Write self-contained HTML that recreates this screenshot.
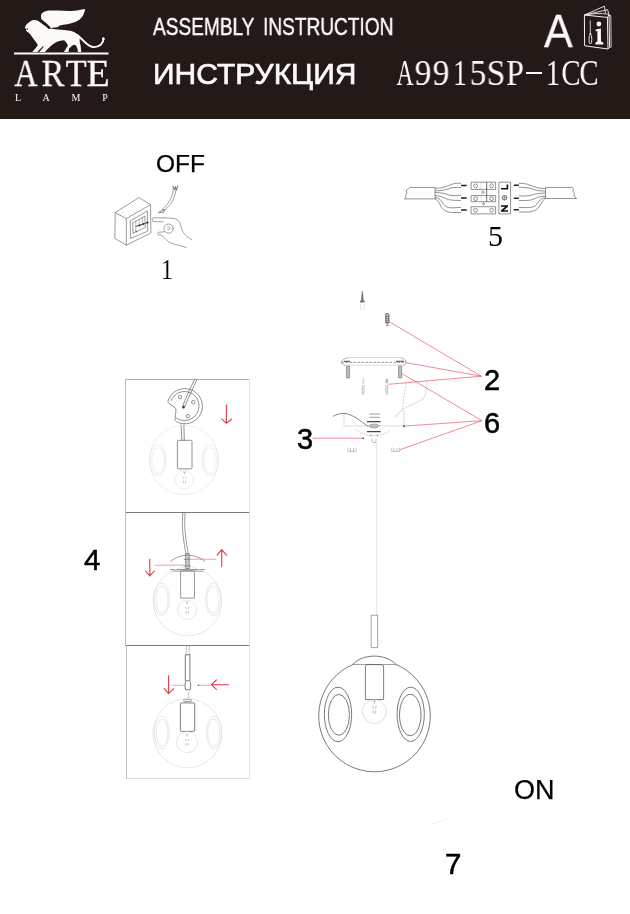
<!DOCTYPE html>
<html><head><meta charset="utf-8">
<style>
html,body{margin:0;padding:0;background:#fff;}
body{width:630px;height:914px;position:relative;overflow:hidden;font-family:"Liberation Sans",sans-serif;}
.t{position:absolute;white-space:nowrap;line-height:1;will-change:transform;}
#hdr{position:absolute;left:0;top:0;width:630px;height:119px;background:#231917;}
.w{color:#fbfaf8;}
.k{color:#000;}
.ser{font-family:"Liberation Serif",serif;}
svg{position:absolute;left:0;top:0;}
#art span{position:absolute;top:0;width:40px;text-align:center;will-change:transform;}
#arte span{position:absolute;top:0;width:50px;text-align:center;will-change:transform;}
#lamp span{position:absolute;top:0;width:20px;text-align:center;will-change:transform;}
</style></head><body>
<div id="hdr"></div>
<svg width="630" height="914" viewBox="0 0 630 914">
<g id="logo" fill="#fbfaf8">
<rect x="14" y="52.5" width="94.5" height="2"/>
<path d="M41,15.6 C41.5,12.8 44.5,11.2 48.7,10.6 C52,10.3 55,10.5 58.6,10.6 C63,10.8 67,11.1 71,11 C75,10.8 79,10.3 82,9.6 L85.2,8.9 C84.8,11 84.2,13 83.4,14.7 C82.2,16.8 80.8,18.5 79.3,19.7 C77.5,21 75.5,22 73.5,22.6 C70.5,23.6 68,24.2 65.2,24.6 C63,25 60.8,25.4 58.6,25.9 L58.6,27 L51,28 L48,26 C45.5,24 43,22 41.8,20.6 C41.2,19 41,17.5 41,15.6 Z"/>
<path d="M25.1,27.7 C25.2,26.8 25.4,26.2 25.6,25.7 C26.2,24.9 26.8,24.2 27.6,23.6 C28.4,22.8 29.3,22.1 30.2,21.6 C31.2,20.9 32.2,20.3 33.2,20.1 C34.2,20 35.3,20.1 36.3,20.3 C37.4,20.6 38.4,21.1 39.3,21.6 L42,23.5 L49,28.3 C52,29 55,29.3 58,29.5 C62,29.8 67,30.2 70.4,30.8 C73,31.5 75,32.5 76.7,33.7 C78,34.6 79.2,35.5 80,36.5 C79.8,38 79.8,39.5 79.6,41 C79.8,42.5 80.2,44 80.6,45.5 L80.9,48.6 L81.3,52 L78,52 L77.5,49 L76.7,46.7 C76,45.8 75.4,45 74.8,44.8 C74,45 73,45.2 72.3,45.4 L69.1,48.6 L68.5,52 L63.8,52 L65.5,49.5 L67.9,45.4 C67.5,44 66.8,43 66,42.2 C65.3,41 64.4,40.5 63.4,40.3 C61.5,40.6 59.6,41 57.7,41.6 C55.5,42.6 53.4,43.8 51.3,45.4 C49,47.5 46.5,50 45,52 L39.3,52 L43.9,46.6 L42.9,46.3 L37.3,52 L32.2,52 C33.5,50.5 35,49 35.8,48 C36.6,47 37.3,46 37.8,45 C36.8,43 35,40.5 33.2,38.4 C32.2,37 31.2,35.6 30.2,34.3 C29,33 27.8,32 26.6,31.3 L26,30.4 L26.4,29.2 L25.1,28.3 Z"/>
<path d="M77.5,35.2 C80,37.5 82,39.5 84,41.3 C87,44 89.5,46.5 93,47 C96,47.4 99,46.3 101,44.5 C102.8,42.8 103.5,40.8 103.6,38.5" fill="none" stroke="#fbfaf8" stroke-width="1.9" stroke-linecap="round"/>
<circle cx="103.3" cy="38.9" r="1.3"/>
</g>
<g fill="#231917"><circle cx="27.3" cy="28.9" r="0.75"/><path d="M38.5,19.8 L41.8,19.6 C43,20.5 44.2,21.6 45.4,22.6 C46.6,23.6 47.8,24.7 48.9,25.7 C49.6,26.3 50.3,27 50.3,27.8 C50.3,28.8 49.3,29.2 48.4,28.7 C47.7,28.1 47,27.4 46.4,26.7 C45.2,25.8 44,25 42.9,24.2 C41.7,23.3 40.5,22.4 39.3,21.6 Z"/></g>
<g id="book" fill="none" stroke="#f4f1ee" stroke-width="1">
<path d="M584.4,15 L607.4,17.4 L608,49 L584.6,45.8 Z"/>

<path d="M607.5,17.6 L609,14.2 L609.6,46.8 L608,49"/>
<path d="M609,15.5 L610.8,15.5 L611.2,47 L609.6,47.6" stroke-width="0.8"/>
<path d="M584.4,15 L604.4,6.2 L605.5,13 M584.4,15 L607.6,9.7 L608.8,14.2 M584.6,15 C592,13.6 600,13 608.8,14.2" stroke-width="0.9"/>
<path d="M590.3,20.4 L590.3,33.5" stroke-width="0.8"/>
<ellipse cx="590.4" cy="39.2" rx="1.4" ry="4.8" stroke-width="0.9"/>
</g>
<g fill="#fbfaf8">
<path d="M589.8,33 L591,33 L591.5,34.8 L589.3,34.8 Z"/>
<circle cx="598.9" cy="24" r="2.4"/>
<path d="M595.6,29.6 L600.9,28.6 L601,41.6 L603.3,42.6 L603.3,44.6 L595.4,44.6 L595.4,42.6 L597.4,41.6 L597.4,31.2 L595.6,31 Z"/>
</g>
</svg>
<div class="t w" id="asm" style="left:153px;top:15px;font-size:24px;-webkit-text-stroke:0.45px #fbfaf8;transform:scaleX(0.795);transform-origin:0 0;">ASSEMBLY</div>
<div class="t w" id="asm2" style="left:263px;top:15px;font-size:24px;-webkit-text-stroke:0.45px #fbfaf8;transform:scaleX(0.795);transform-origin:0 0;">INSTRUCTION</div>
<div class="t w" id="ins" style="left:153px;top:59.4px;font-size:30px;-webkit-text-stroke:0.7px #fbfaf8;">ИНСТРУКЦИЯ</div>
<div class="w ser" id="art" style="position:absolute;left:0;top:55px;width:630px;height:36px;font-size:36px;line-height:1;"><span style="left:384.70px;transform:scaleX(0.656);">A</span><span style="left:403.00px;transform:scaleX(0.93);">9</span><span style="left:421.40px;transform:scaleX(0.93);">9</span><span style="left:439.70px;transform:scaleX(0.77);">1</span><span style="left:458.25px;transform:scaleX(0.92);">5</span><span style="left:476.40px;transform:scaleX(0.93);">S</span><span style="left:495.05px;transform:scaleX(0.9);">P</span><span style="left:532.50px;transform:scaleX(0.78);">1</span><span style="left:551.25px;transform:scaleX(0.8);">C</span><span style="left:569.45px;transform:scaleX(0.79);">C</span></div>
<div style="position:absolute;left:526.2px;top:72.3px;width:15.6px;height:1.7px;background:#fbfaf8;"></div>
<div class="t w" id="bigA" style="left:544px;top:6.7px;font-size:47px;-webkit-text-stroke:0.3px #fbfaf8;transform:scaleX(0.915);transform-origin:0 0;">A</div>
<div class="w ser" id="arte" style="position:absolute;left:0;top:54px;-webkit-text-stroke:0.3px #fbfaf8;width:130px;height:40px;font-size:38px;line-height:1;"><span style="left:0.90px;transform:scaleX(0.84);">A</span><span style="left:28.05px;transform:scaleX(0.9);">R</span><span style="left:50.55px;transform:scaleX(0.9);">T</span><span style="left:73.10px;transform:scaleX(1.0);">E</span></div>
<div class="w ser" id="lamp" style="position:absolute;left:0;top:93px;width:130px;height:12px;font-size:10px;line-height:1;"><span style="left:8.3px">L</span><span style="left:36.3px">A</span><span style="left:65.9px">M</span><span style="left:95.0px">P</span></div>

<svg width="630" height="914" viewBox="0 0 630 914" id="body">
<!-- FIG 1: switch -->
<g fill="none" stroke="#4a4a4a" stroke-width="0.55" stroke-linejoin="round">
<path d="M115.2,212.6 L139,197.5 L150.5,204.7 L126.3,218.6 Z"/>
<path d="M115.2,212.6 L114.8,238.4 L126.3,245.2 L126.3,218.6"/>
<path d="M150.5,204.7 L150.9,232.9 L126.3,245.2"/>
<path d="M130.2,221 L147.3,211 L147.7,231.2 L130.6,238.4 Z"/>
<path d="M132.6,222.9 L144.9,216.2 L145.3,227.3 L133,233.3 Z"/>
<path d="M135.8,221.5 L135.8,229.5 M139.2,219.6 L139.2,227.6 M142.4,217.8 L142.4,225.8" stroke-width="0.5" stroke="#777"/>
<path d="M135.5,226.5 L148.3,222.3" stroke="#333" stroke-width="0.9"/>
<path d="M135.6,230.3 L136.6,232.2" stroke="#333" stroke-width="1"/>
<circle cx="139.6" cy="225.2" r="0.7" fill="#333"/><circle cx="143.4" cy="224" r="0.7" fill="#333"/><circle cx="147.5" cy="222.6" r="0.8" fill="#333"/>
</g>
<g fill="none" stroke="#555" stroke-width="0.55" stroke-linecap="round">
<path d="M173.3,187 C173.6,195 170,203 162.2,209.5 M175.9,187.6 C176,196 172.5,204 163.6,211"/>
<path d="M172.9,186 L174.6,190 L175.4,186.5 L176.6,190.5 L177.6,186" stroke-width="0.7"/>
<path d="M163.8,209.3 L158.5,212.6 L163.6,212.2 Z" stroke-width="0.7"/>
<path d="M164.4,217.8 C170,218 175,218.5 176.7,219.3 C179.5,221 180.7,224 181.3,227.5 C182.5,232 184.5,236 191.8,239.5"/>
<path d="M164.4,217.8 L153,217.9 C152,218.4 152,220.8 153,221.3 L163,221.9"/>
<circle cx="168.6" cy="228.6" r="4.6"/>
<path d="M167.3,227 C168.5,226.2 170.3,227 170,228.8 C169.6,230.2 167.8,230.3 167.2,229.2" stroke-width="0.5"/>
<path d="M164.5,231.8 L158.6,232.3 C157.4,232.8 157.4,234.4 158.5,234.8 L161,234.8 C163,236 165,239 168.8,241.9 C172,244 180,245.5 186.3,247.5"/>
</g>
<!-- FIG 5: connector -->
<g fill="none" stroke="#4a4a4a" stroke-width="0.6">
<path d="M409.6,187.4 L435,187.4 L435,198.9 L404.5,198.9 L406,197.5 L405.5,195.5 L407,193 L406.2,190.5 L408,189 Z"/>
<path d="M545.6,187.4 L572.2,187.4 L573.5,189 L573,191.5 L574.5,193.5 L574,196 L576.7,198.5 L545.6,198.5 Z"/>
<path d="M435,188.3 C442,188.5 446,186.5 452,184.2 C455,183.3 458,183 461,183.3 M435,190.8 C442,191 446,189.5 451,188 C455,187.2 458,187.5 461,187.7"/>
<path d="M435,192.5 C441,192.7 445,193.5 450,195.3 C454,196 458,195.5 461,195.3 M435,195.5 C441,195.7 444,198 449,199.8 C453,200.5 457,200.5 461,200.4"/>
<path d="M435,197.5 C439,197.8 441,200 443,203.5 C445,207 449,208 453,207.8 L461,207.4 M435,198.9 C438,199.5 439,203 441,206.5 C443.5,211 448,212.5 453,212.5 L461,212.5"/>
<path d="M545.6,188.5 C539,188.7 535,187 529,184.8 C525,183.3 522,183.3 518.9,183.5 M545.6,191 C539,191.2 535,190 530,188.3 C525.5,187.3 522,187.3 518.9,187.3"/>
<path d="M545.6,193 C539,193.2 535,194 530,195.5 C526,196.2 522,196 518.9,195.8 M545.6,196 C539,196.2 536,198.5 531,200 C527,200.7 522,200.5 518.9,200.5"/>
<path d="M545.6,197.5 C541,197.8 539,201 537,204 C535,207 531,207.6 527,207.6 L518.9,207.5 M545.6,198.5 C543,199 541.5,203.5 539,207 C537,210.5 532,212 527,212 L518.9,212"/>
<path d="M471.1,182.2 L495.6,182.2 L495.6,189.4 L471.1,189.4 Z M471.1,195.6 L495.6,195.6 L495.6,201.7 L471.1,201.7 Z M471.1,206.7 L495.6,206.7 L495.6,213.9 L471.1,213.9 Z"/>
<path d="M486.7,182.2 L486.7,201.7" stroke-width="0.8"/>
<path d="M481.1,182.5 L481.1,201.5" stroke-width="0.5" stroke-dasharray="1 1" stroke="#888"/>
<circle cx="475.6" cy="185.8" r="1.9"/><circle cx="491.6" cy="185.8" r="1.9"/>
<circle cx="475.6" cy="198.7" r="1.9"/><circle cx="491.6" cy="198.7" r="1.9"/>
<circle cx="475.6" cy="210.3" r="1.9"/><circle cx="491.6" cy="210.3" r="1.9"/>
<circle cx="483.2" cy="192.3" r="1"/><circle cx="483.6" cy="203.8" r="1"/>
<path d="M498.9,182.2 L510.6,182.2 L510.6,213.9 L498.9,213.9 Z"/>
<circle cx="504.6" cy="197.7" r="2.3" stroke-width="0.8"/>
<path d="M502.3,197.7 L506.9,197.7 M504.6,195.4 L504.6,200" stroke-width="0.5"/>
</g>
<g stroke="#222" stroke-width="1.4">
<path d="M461,185.5 L466.7,185.5 M461,198 L466.7,198 M461,210 L466.7,210"/>
<path d="M513.8,185.2 L518.9,185.2 M513.8,198.2 L518.9,198.2 M513.8,209.7 L518.9,209.7"/>
</g>
<g fill="#111">
<path d="M501,189.5 L508.2,189.5 L508.2,184.6 L506.6,184.6 L506.6,187.9 L501,187.9 Z"/>
<path d="M501,205.3 L508,205.3 L508,206.8 L503.8,210.2 L508,210.2 L508,211.7 L501,211.7 L501,210.2 L505.2,206.8 L501,206.8 Z"/>
</g>
<!-- MAIN ASSEMBLY (gray parts) -->
<g fill="none" stroke="#5a5a5a" stroke-width="0.6">
<path d="M362.3,291 L362.9,295 L363.3,300.3 L364.5,301.2 L364.5,302.2 L360.1,302.2 L360.1,301.2 L361.3,300.3 L361.7,295 Z" fill="#777" stroke="#555" stroke-width="0.35"/>
<path d="M360.6,302.5 L360.6,310.4 M364.2,302.5 L364.2,310.4" stroke="#ccc"/>
<path d="M385.8,314.5 C385.8,313.3 388.8,313.3 388.8,314.5 L388.8,323 L385.8,323 Z" fill="#ccc"/>
<path d="M385.8,314.5 C385.8,313.3 388.8,313.3 388.8,314.5 L388.8,323 L385.8,323 Z M385.6,316.5 L389,316.5 M385.6,318.6 L389,318.6 M385.6,320.8 L389,320.8 M387.3,323 L387.3,325.5 M385.8,325.5 L388.8,325.5"/>
<path d="M347.7,357.6 L401,357.6" stroke="#aaa" stroke-width="0.5"/>
<path d="M347.7,357.6 C344,358.5 342,360 341.3,362.3 C341.5,364 343,365 345,365.2 M401,357.6 C404,358.5 406,360 406.1,362.3 C406,364 404.5,365 403,365.2" stroke="#777" stroke-width="0.6"/>
<path d="M341.5,362.3 L406,362.3" stroke="#666" stroke-width="0.7" stroke-dasharray="2.5 1.5"/>
<path d="M345,365.2 L403,365.2" stroke="#bbb" stroke-width="0.5"/>
<path d="M344,361.3 L350,361.3 M396,361.3 L404,361.3" stroke="#444" stroke-width="1"/>
<path d="M346.4,365.9 L349.6,365.9 L349.6,377.9 L346.4,377.9 Z M398.5,365.9 L401.7,365.9 L401.7,377.9 L398.5,377.9 Z" fill="#bbb" stroke="#777"/>
<path d="M363.2,378.6 L363.2,383 M362.4,383 L364,383 M362.4,385 L362.4,394.4 M364,385 L364,394.4" stroke="#999"/>
<path d="M386.8,378.6 L386.8,383 M386,379.5 L387.6,379.5 L387.6,383 L386,383 Z M386,385 L386,394.4 M387.6,385 L387.6,394.4" stroke="#999"/>
</g>
<g fill="none" stroke="#d4d4d4" stroke-width="0.8">
<path d="M406,382.9 L402.1,409.9" stroke="#aaa" stroke-width="0.6" stroke-dasharray="2 1.2"/>
<path d="M402.1,409.9 C406,407 416,403 423.1,398.8 C426,395 426.5,390 427,382.1" stroke="#c4c4c4" stroke-width="0.6"/>
<path d="M402.1,409.9 L394.5,417.1" stroke="#e8e8e8" stroke-width="1.6"/>
<path d="M404,410.7 L404,426" stroke="#999" stroke-width="0.6" stroke-dasharray="1.5 1"/>
<path d="M344,413 L344,426 M344,426 L404.4,426"/>
<path d="M355.2,429.2 C360,433 366,435.6 372.6,435.6 C380,435.6 386,433.5 390,430.8"/>
<path d="M376.6,442.7 L376.6,615" stroke="#dedede"/>
</g>
<g fill="none" stroke="#555" stroke-width="0.7">
<path d="M332.9,416.5 C336,414.5 340,413.3 344,413.3 C348,413.5 352,415.5 356.7,418.1 C361,421 364,424 367.9,426"/>
<path d="M369.4,414 L379.8,414 M369.4,417.3 L379.8,417.3" stroke-width="0.6"/>
<path d="M367,421.6 L380.6,421.6 M367,431.6 L380.6,431.6" stroke-width="1.1" stroke="#444"/>
<path d="M368,426 L380,426 M370,424.8 C372,424 376,424 378,424.8 M370,427.2 C372,428 376,428 378,427.2" stroke-width="0.6"/>
<path d="M371,434 L371,437 M377.4,434 L377.4,437 M372,438.5 L372,442.3 M376,438.5 L376,442.3 M373,442.5 L375.8,442.5" stroke-width="0.5" stroke="#777"/>
<path d="M348,451.4 L348,447.5 M356,451.4 L356,447.5 M348,451.4 L356,451.4 M350.5,448 L350.5,451.4 M353.5,448 L353.5,451.4" stroke="#888" stroke-width="0.5"/>
<path d="M391.7,451.4 L391.7,447.5 M399.6,451.4 L399.6,447.5 M391.7,451.4 L399.6,451.4 M394,448 L394,451.4 M397,448 L397,451.4" stroke="#888" stroke-width="0.5"/>
</g>
<!-- red leader lines -->
<g fill="none" stroke="#e33d54" stroke-width="0.6">
<path d="M388.9,321.5 L481.3,376.2 M406.1,362.7 L481.3,376.2 M388.3,384.3 L481.3,376.2"/>
<path d="M401.7,373.5 L482,420.7 M403.8,426.1 L482,420.7 M399.6,449.8 L482,420.7"/>
<path d="M312.7,438.2 L363.3,438.2"/>
</g>
<circle cx="363.3" cy="438.2" r="0.8" fill="#333"/>
<circle cx="198.4" cy="685.3" r="0.8" fill="#555"/>
<circle cx="403.8" cy="426.1" r="0.9" fill="#333"/>
<path d="M432,824.5 L447,818.5" stroke="#f0f0f0" stroke-width="1.2" fill="none"/>
<!-- BIG LAMP -->
<g fill="none" stroke="#4e4e4e" stroke-width="0.75">
<path d="M371.1,615.2 L377.7,615.2 L377.7,647.6 L371.1,647.6 Z" stroke="#666" stroke-width="0.6"/>
<path d="M353.2,664.4 A55.8,55.8 0 1 0 395.8,664.4"/>
<path d="M352.6,664.6 C357,659.5 365,656.1 374.4,656.1 C384,656.1 391,659.5 396.3,664.6"/>
<path d="M352.6,664.5 L396.3,664.5" stroke="#777" stroke-width="0.7"/>
<path d="M365.4,699.5 L365.4,667 C365.4,665 366.5,664.6 368,664.6 L380.8,664.6 C382.3,664.6 383.6,665 383.6,667 L383.6,699.5 Z" stroke="#555"/>
<ellipse cx="338" cy="714.45" rx="13.65" ry="27.25"/>
<ellipse cx="338.9" cy="714.85" rx="10.55" ry="20.45"/>
<ellipse cx="410.7" cy="714.3" rx="13.6" ry="27.1"/>
<ellipse cx="410.25" cy="715" rx="10.75" ry="20.7"/>
</g>
<g fill="none" stroke="#c8c8c8" stroke-width="0.6">
<circle cx="374.4" cy="711.5" r="12"/>
<path d="M373.2,700.8 L375.6,700.8 M374.4,701 L374.4,703.8 M372.6,706 L373.3,708.5 M376.2,706 L375.5,708.5 M373.2,710.5 L373.2,713.5 M375.6,710.5 L375.6,713.5" stroke="#777" stroke-width="0.55"/>
</g>
<!-- STEP 4 PANELS -->
<g fill="none" stroke-width="0.8">
<path d="M125.5,379.5 L249.5,379.5" stroke="#9a9a9a"/>
<path d="M125.5,512.5 L249.5,512.5 M125.5,645.5 L249.5,645.5" stroke="#6a6a6a" stroke-width="0.9"/>
<path d="M126.5,778.5 L249.5,778.5" stroke="#d0d0d0"/>
<path d="M125.5,379.5 L125.5,645.5 M126.5,645.5 L126.5,778.5" stroke="#b0b0b0"/>
<path d="M249.5,379.5 L249.5,778.5" stroke="#dadada"/>
</g>
<!-- panel 1 -->
<g fill="none" stroke="#555" stroke-width="0.65">
<path d="M167.8,401.7 A17.6,17.6 0 1 1 176.3,421.6 C175.2,420.8 174.8,419.8 175,419 C175.5,414 176.5,410 175.6,408.3 C173,405.5 169,404.5 167.8,401.7 Z"/>
<path d="M170.9,401 A14.5,14.5 0 1 1 176.2,417.9"/>
<circle cx="180" cy="397.2" r="1.7"/><circle cx="193.3" cy="402.2" r="1.7"/><circle cx="187.8" cy="416.1" r="1.7"/>
<path d="M194.6,379.4 C191,387 186,397 182.5,406.6 M197,379.4 C193.3,387.5 188.5,397.5 184.6,407"/>
<circle cx="183.5" cy="407.2" r="1.1" fill="#333"/>
<path d="M181.1,424.4 L181.9,440.4 M183.9,424.4 L184.3,440.4"/>
<rect x="177.4" y="440.3" width="14.6" height="28.6" rx="1.5"/>
</g>
<g fill="none" stroke="#e0e0e0" stroke-width="0.6">
<circle cx="184" cy="460" r="34.8"/>
<ellipse cx="158" cy="460.3" rx="8" ry="15.5"/>
<ellipse cx="158.3" cy="460.6" rx="6.4" ry="12.9"/>
<ellipse cx="210.3" cy="460.3" rx="8" ry="15.5"/>
<ellipse cx="210.0" cy="460.6" rx="6.4" ry="12.9"/>
<circle cx="184.4" cy="479.7" r="9"/>
</g>
<g fill="none" stroke="#888" stroke-width="0.5">
<path d="M183.20000000000002,472.2 L185.6,472.2 M184.4,472.4 L184.4,474.2 M182.8,476.7 L183.4,478.7 M186.0,476.7 L185.4,478.7 M183.3,480.7 L183.3,483.2 M185.5,480.7 L185.5,483.2"/>
</g>
<!-- panel 2 -->
<g fill="none" stroke="#555" stroke-width="0.6">
<path d="M182.9,512.4 C181.3,527 183.6,541 186,554.4 M185.2,512.4 C183.6,527 186,541 188.4,554.4"/>
<rect x="185.7" y="553.7" width="3.5" height="15" fill="#c8c8c8" stroke="#666"/>
<path d="M170.2,561.6 C176,557.5 181,555.2 187.6,555.2 C194,555.2 200,557.5 205.1,561.6"/>
<path d="M183.7,559.2 L190.8,559.2 M183.7,566 L190.8,566"/>
<path d="M170.2,569.5 L205.1,569.5 M172,571.1 L203.5,571.1"/>
<path d="M180.6,598.1 L180.6,572 C180.6,571 181.5,570.8 182.5,570.8 L192.5,570.8 C193.5,570.8 194.5,571 194.5,572 L194.5,598.1 Z"/>
</g>
<g fill="none" stroke="#d8d8d8" stroke-width="0.6">
<circle cx="187.5" cy="601.5" r="34.2"/>
<ellipse cx="161.7" cy="599.3" rx="7.7" ry="16.3"/>
<ellipse cx="162.0" cy="599.5999999999999" rx="6.1" ry="13.700000000000001"/>
<ellipse cx="213.3" cy="599.3" rx="7.7" ry="16.3"/>
<ellipse cx="213.0" cy="599.5999999999999" rx="6.1" ry="13.700000000000001"/>
<circle cx="187.2" cy="609.9" r="9.5"/>
</g>
<g fill="none" stroke="#888" stroke-width="0.5">
<path d="M186.0,602.4 L188.39999999999998,602.4 M187.2,602.6 L187.2,604.4 M185.6,606.9 L186.2,608.9 M188.79999999999998,606.9 L188.2,608.9 M186.1,610.9 L186.1,613.4 M188.29999999999998,610.9 L188.29999999999998,613.4"/>
</g>
<!-- panel 3 -->
<g fill="none" stroke="#555" stroke-width="0.6">
<path d="M186.4,645.3 L186.2,654.8 M189.3,645.3 L189.2,654.8" stroke="#888" stroke-width="0.5"/>
<path d="M185.3,654.8 L189.9,654.8 L189.9,680.8 L185.3,680.8 Z" stroke="#444" stroke-width="0.7"/>
<path d="M185.6,681.5 C184.9,684 184.9,687 185.6,689.8 L190.2,689.8 C190.9,687 190.9,684 190.2,681.5" stroke="#444" stroke-width="0.7"/>
<path d="M188.6,692 L188.6,698" stroke-dasharray="1.2 1"/>
<rect x="183.6" y="699.3" width="7.8" height="2.1" rx="1"/>
<rect x="180.4" y="702.9" width="14.3" height="28.5" rx="1.2" stroke="#444" stroke-width="0.7"/>
</g>
<g fill="none" stroke="#d8d8d8" stroke-width="0.6">
<circle cx="187.5" cy="733.2" r="34.5"/>
<ellipse cx="161.8" cy="732.5" rx="7.5" ry="16.1"/>
<ellipse cx="162.10000000000002" cy="732.8" rx="5.9" ry="13.500000000000002"/>
<ellipse cx="213.9" cy="732.5" rx="7.5" ry="16.1"/>
<ellipse cx="213.6" cy="732.8" rx="5.9" ry="13.500000000000002"/>
<circle cx="187.1" cy="742.1" r="10.5"/>
</g>
<g fill="none" stroke="#888" stroke-width="0.5">
<path d="M185.9,734.6 L188.29999999999998,734.6 M187.1,734.8000000000001 L187.1,736.6 M185.5,739.1 L186.1,741.1 M188.7,739.1 L188.1,741.1 M186.0,743.1 L186.0,745.6 M188.2,743.1 L188.2,745.6"/>
</g>
<!-- red arrows in panels -->
<g fill="none" stroke="#e2374c" stroke-width="1.1" stroke-linecap="round" stroke-linejoin="round">
<path d="M226.4,405 L226.4,423.3 M221.9,419.2 L226.4,423.3 L231.4,419.2"/>
<path d="M149.8,559.2 L149.8,575.9 M145.6,571 L149.8,575.9 L154.3,571"/>
<path d="M221.7,549.7 L221.7,566.3 M217,555.2 L221.7,549.7 L226.5,555.2"/>
<path d="M168.6,675.7 L168.6,693.6 M164.3,688.6 L168.6,693.6 L173.6,688.6"/>
<path d="M228.6,684.7 L211.4,684.7 M216.4,680 L211.4,684.7 L216.4,689.3"/>
</g>
<g fill="none" stroke="#e6606f" stroke-width="0.6">
<path d="M155.1,565.2 L184.4,565.2 M190.8,559.2 L216.2,559.2 M171.4,685.3 L185,685.3 M198.6,685.3 L210,685.3"/>
</g>
</svg>
<div class="t k" id="off" style="-webkit-text-stroke:0.25px #000;left:156px;top:152px;font-size:24.5px;">OFF</div>
<div class="t k ser" id="n1" style="left:160.5px;top:253.6px;font-size:30px;transform:scaleX(0.8);transform-origin:0 0;">1</div>
<div class="t k ser" id="n5" style="left:487.5px;top:221px;font-size:30px;">5</div>
<div class="t k" id="n2" style="-webkit-text-stroke:0.55px #000;left:484px;top:365.5px;font-size:29px;">2</div>
<div class="t k" id="n6" style="-webkit-text-stroke:0.55px #000;left:483.5px;top:408.5px;font-size:29px;">6</div>
<div class="t k" id="n3" style="-webkit-text-stroke:0.55px #000;left:297px;top:424.5px;font-size:29px;">3</div>
<div class="t k" id="n4" style="-webkit-text-stroke:0.55px #000;left:84px;top:544.5px;font-size:29.5px;">4</div>
<div class="t k" id="on" style="-webkit-text-stroke:0.25px #000;left:513.5px;top:776.5px;font-size:27px;">ON</div>
<div class="t k" id="n7" style="-webkit-text-stroke:0.55px #000;left:444.5px;top:848.5px;font-size:29.5px;">7</div>

</body></html>
